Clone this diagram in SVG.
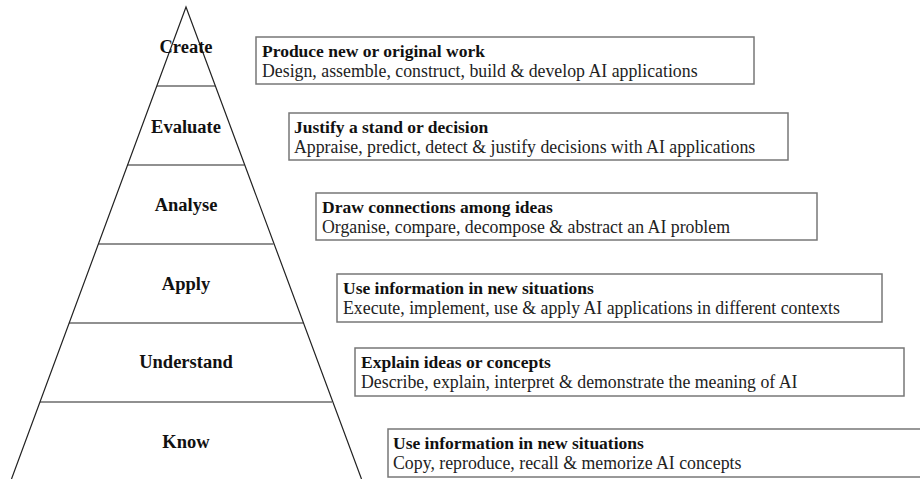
<svg xmlns="http://www.w3.org/2000/svg" width="920" height="479" viewBox="0 0 920 479">
<style>
.pyr{fill:none;stroke:#222;stroke-width:1.2}
.lvl{font-family:"Liberation Serif","Times New Roman",serif;font-weight:bold;font-size:18.5px;fill:#111;text-anchor:middle}
.box{fill:#fff;stroke:#777;stroke-width:1.5}
.t{font-family:"Liberation Serif","Times New Roman",serif;font-weight:bold;font-size:17.5px;fill:#111}
.d{font-family:"Liberation Serif","Times New Roman",serif;font-size:17.8px;fill:#222}
</style>
<rect width="920" height="479" fill="#fff"/>
<g id="pyramid">
<polyline class="pyr" points="11.5,479 186,7 361.5,479"/>
<line class="pyr" x1="157" y1="86" x2="215" y2="86"/>
<line class="pyr" x1="127.5" y1="165" x2="244.5" y2="165"/>
<line class="pyr" x1="98.5" y1="244" x2="273.5" y2="244"/>
<line class="pyr" x1="69" y1="323" x2="303" y2="323"/>
<line class="pyr" x1="40" y1="402" x2="332" y2="402"/>
</g>
<g id="level-create"><text class="lvl" x="186" y="53">Create</text></g>
<g id="level-evaluate"><text class="lvl" x="186" y="133">Evaluate</text></g>
<g id="level-analyse"><text class="lvl" x="186" y="211">Analyse</text></g>
<g id="level-apply"><text class="lvl" x="186" y="290">Apply</text></g>
<g id="level-understand"><text class="lvl" x="186" y="368">Understand</text></g>
<g id="level-know"><text class="lvl" x="186" y="448">Know</text></g>
<g id="box-create">
<rect class="box" x="256" y="37" width="498" height="47"/>
<text class="t" x="262" y="57">Produce new or original work</text>
<text class="d" x="262" y="77">Design, assemble, construct, build &amp; develop AI applications</text>
</g>
<g id="box-evaluate">
<rect class="box" x="289" y="113" width="499" height="47"/>
<text class="t" x="294" y="133">Justify a stand or decision</text>
<text class="d" x="294" y="153">Appraise, predict, detect &amp; justify decisions with AI applications</text>
</g>
<g id="box-analyse">
<rect class="box" x="316" y="193" width="501" height="47"/>
<text class="t" x="322" y="213">Draw connections among ideas</text>
<text class="d" x="322" y="233">Organise, compare, decompose &amp; abstract an AI problem</text>
</g>
<g id="box-apply">
<rect class="box" x="337" y="274" width="545" height="48"/>
<text class="t" x="343" y="294">Use information in new situations</text>
<text class="d" x="343" y="314">Execute, implement, use &amp; apply AI applications in different contexts</text>
</g>
<g id="box-understand">
<rect class="box" x="355" y="348" width="549" height="48"/>
<text class="t" x="361" y="368">Explain ideas or concepts</text>
<text class="d" x="361" y="388">Describe, explain, interpret &amp; demonstrate the meaning of AI</text>
</g>
<g id="box-know">
<rect class="box" x="388" y="429" width="540" height="48"/>
<text class="t" x="393" y="449">Use information in new situations</text>
<text class="d" x="393" y="469">Copy, reproduce, recall &amp; memorize AI concepts</text>
</g>
<g id="connectors"></g>
</svg>
